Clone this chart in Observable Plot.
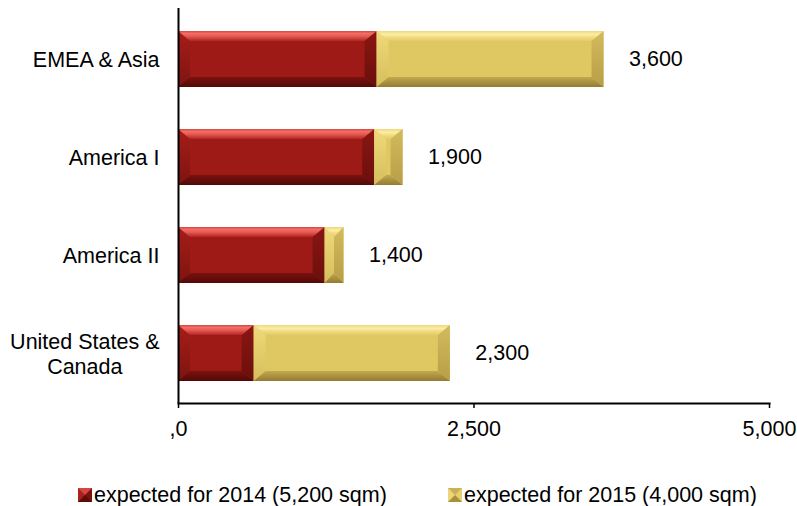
<!DOCTYPE html>
<html>
<head>
<meta charset="utf-8">
<script src="https://cdn.jsdelivr.net/npm/d3@7"></script>
<script src="https://cdn.jsdelivr.net/npm/@observablehq/plot@0.6"></script>
<style>
  body { margin: 0; background: #fff; font-family: "Liberation Sans", Arial, Helvetica, sans-serif; }
  #chart svg { display: block; }
  .legend { position: relative; width: 797px; height: 36px; font-size: 21.5px; color: #000; }
  .item { position: absolute; top: 15px; display: flex; align-items: center; white-space: nowrap; line-height: 20px; }
  .sw { width: 0; height: 0; border: 7px solid; margin-right: 2px; }
  .sw.s2014 { border-color: #d4463f #7a1310 #5e0c09 #a8221d; }
  .sw.s2015 { border-color: #c9b05a #e6cf6e #a88f3e #ecd676; }
</style>
</head>
<body>
<div id="chart"></div>
<div class="legend">
  <div class="item" style="left:78px"><span class="sw s2014"></span><span id="lg0"></span></div>
  <div class="item" style="left:448px"><span class="sw s2015"></span><span id="lg1"></span></div>
</div>
<script>
// Floor space by region (sqm), split by the year it is expected
const regions = ["EMEA & Asia", "America I", "America II", "United States &\nCanada"];
const expected2014 = [1680, 1660, 1240, 640];
const expected2015 = [1920, 240, 160, 1660];
const seriesNames = ["expected for 2014 (5,200 sqm)", "expected for 2015 (4,000 sqm)"];
const seriesColors = ["#9d1a16", "#dfc762"];
const xTicks = [0, 2500, 5000];
const xTickLabels = [",0", "2,500", "5,000"];

const rows = [];
regions.forEach((r, i) => {
  rows.push({region: r, series: seriesNames[0], value: expected2014[i]});
  rows.push({region: r, series: seriesNames[1], value: expected2015[i]});
});
const totals = regions.map((r, i) => ({region: r, total: expected2014[i] + expected2015[i]}));

const FONT = 21.5;
const chart = Plot.plot({
  width: 797,
  height: 470,
  marginLeft: 178,
  marginRight: 28,
  marginTop: 8,
  marginBottom: 67,
  style: {fontFamily: '"Liberation Sans", Arial, Helvetica, sans-serif', fontSize: `${FONT}px`, color: "#000", background: "#fff", overflow: "visible"},
  x: {domain: [0, 5000]},
  y: {domain: regions, paddingInner: 0.433, paddingOuter: 0.2165},
  color: {domain: seriesNames, range: seriesColors},
  marks: [
    Plot.barX(rows, Plot.stackX({x: "value", y: "region", fill: "series"})),
    Plot.text(totals, {x: "total", y: "region", text: d => d3.format(",")(d.total), textAnchor: "start", dx: 25, fontSize: FONT, fill: "#000"}),
    Plot.axisX({ticks: xTicks, tickFormat: d => xTickLabels[xTicks.indexOf(d)], tickSize: 5, tickPadding: 12, strokeWidth: 1.5, label: null, fontSize: FONT}),
    Plot.axisY({tickSize: 0, tickPadding: 19, label: null, lineHeight: 1.15, fontSize: FONT}),
    Plot.ruleX([0], {stroke: "#000", strokeWidth: 2}),
    Plot.frame({anchor: "bottom", stroke: "#000", strokeWidth: 2})
  ]
});

document.getElementById("chart").append(chart);
document.getElementById("lg0").textContent = seriesNames[0];
document.getElementById("lg1").textContent = seriesNames[1];

// Bevelled bar faces: edge trapezoids laid over each rendered rect
const palettes = [
  {top: [["0", "#d04a44"], ["0.25", "#f36c65"], ["0.5", "#e85c55"], ["1", "#b02622"]],
   bottom: [["0", "#7a120f"], ["1", "#520906"]],
   left: [["0", "#a61d19"], ["1", "#7e1410"]], right: [["0", "#8a1612"], ["1", "#6a0f0c"]]},
  {top: [["0", "#eed97e"], ["0.35", "#fbeda6"], ["0.6", "#f0dc84"], ["1", "#e3cb68"]],
   bottom: [["0", "#c2a94f"], ["1", "#937b34"]],
   left: [["0", "#efd97a"], ["1", "#d6be5c"]], right: [["0", "#d3ba5c"], ["1", "#b89f48"]]}
];
const svg = d3.select(chart.tagName.toLowerCase() === "svg" ? chart : chart.querySelector("svg"));
const defs = svg.insert("defs", ":first-child");
palettes.forEach((p, i) => {
  ["top", "bottom", "left", "right"].forEach(side => {
    const g = defs.append("linearGradient").attr("id", `bev-${side}-${i}`)
      .attr("x1", 0).attr("y1", 0).attr("x2", 0).attr("y2", 1);
    p[side].forEach(([o, c]) => g.append("stop").attr("offset", o).attr("stop-color", c));
  });
});
svg.selectAll('g[aria-label="bar"] rect').each(function() {
  const r = d3.select(this);
  const x = +r.attr("x"), y = +r.attr("y"), w = +r.attr("width"), h = +r.attr("height");
  const i = seriesColors.indexOf(r.attr("fill"));
  if (i < 0) return;
  const bx = Math.min(12, w / 2), by = Math.min(10, h / 2);
  const g = d3.select(this.parentNode);
  const poly = (pts, fill) => g.append("polygon").attr("points", pts.map(q => q.join(",")).join(" ")).attr("fill", fill);
  poly([[x, y], [x + bx, y + by], [x + bx, y + h - by], [x, y + h]], `url(#bev-left-${i})`);
  poly([[x + w, y], [x + w - bx, y + by], [x + w - bx, y + h - by], [x + w, y + h]], `url(#bev-right-${i})`);
  poly([[x, y], [x + w, y], [x + w - bx, y + by], [x + bx, y + by]], `url(#bev-top-${i})`);
  poly([[x, y + h], [x + w, y + h], [x + w - bx, y + h - by], [x + bx, y + h - by]], `url(#bev-bottom-${i})`);
});

// Category labels: centre the lines of each label on its widest line, right edge kept at the axis gap
svg.selectAll('g[aria-label="y-axis tick label"] text').each(function() {
  const w = this.getBBox().width;
  const t = this.getAttribute("transform") || "";
  this.setAttribute("text-anchor", "middle");
  this.setAttribute("transform", `${t} translate(${-w / 2},0)`);
});
</script>
</body>
</html>
